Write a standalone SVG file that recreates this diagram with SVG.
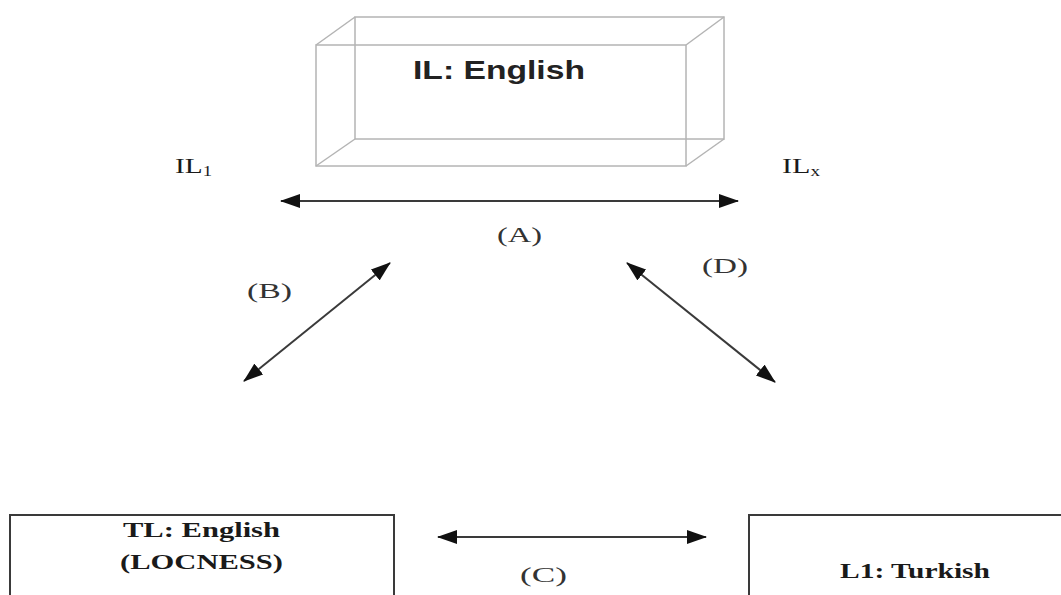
<svg xmlns="http://www.w3.org/2000/svg" width="1061" height="595" viewBox="0 0 1061 595">
<style>
.cube{fill:none;stroke:#b4b4b4;stroke-width:1.5}
.box{fill:#fff;stroke:#3a3a3a;stroke-width:2}
.conn{stroke:#3a3a3a;stroke-width:2;fill:none}
.serif{font-family:"Liberation Serif","Times New Roman",serif;fill:#1a1a1a}
.lbl{font-family:"Liberation Serif","Times New Roman",serif;font-size:20px;fill:#333}
.bold{font-weight:bold}
</style>
<defs>
<marker id="ah" viewBox="0 0 20 14" refX="19" refY="7" markerWidth="20" markerHeight="14" markerUnits="userSpaceOnUse" orient="auto-start-reverse">
<path d="M0,0 L20,7 L0,14 Z" fill="#111"/>
</marker>
</defs>
<rect width="1061" height="595" fill="#fff"/>
<g id="il-box">
<rect class="cube" x="355" y="17" width="369" height="122"/>
<rect class="cube" x="316" y="45" width="370" height="121"/>
<line class="cube" x1="316" y1="45" x2="355" y2="17"/>
<line class="cube" x1="686" y1="45" x2="724" y2="17"/>
<line class="cube" x1="316" y1="166" x2="355" y2="139"/>
<line class="cube" x1="686" y1="166" x2="724" y2="139"/>
<text x="413" y="79" textLength="172" lengthAdjust="spacingAndGlyphs" font-family="Liberation Sans, Arial, sans-serif" font-weight="bold" font-size="25" fill="#222">IL: English</text>
</g>
<g id="il1">
<text class="serif" x="175" y="173" font-size="22" textLength="37" lengthAdjust="spacingAndGlyphs">IL<tspan font-size="14" dy="3">1</tspan></text>
</g>
<g id="ilx">
<text class="serif" x="782" y="173" font-size="22" textLength="38" lengthAdjust="spacingAndGlyphs">IL<tspan font-size="14" dy="3">x</tspan></text>
</g>
<g id="tl-box">
<rect class="box" x="10" y="515" width="384" height="100"/>
<text class="serif bold" x="123" y="537" font-size="20" textLength="157" lengthAdjust="spacingAndGlyphs">TL: English</text>
<text class="serif bold" x="120" y="569" font-size="20" textLength="163" lengthAdjust="spacingAndGlyphs">(LOCNESS)</text>
</g>
<g id="l1-box">
<rect class="box" x="749" y="515" width="330" height="100"/>
<text class="serif bold" x="840" y="578" font-size="20" textLength="150" lengthAdjust="spacingAndGlyphs">L1: Turkish</text>
</g>
<g id="connectors">
<line class="conn" x1="281" y1="201" x2="738" y2="201" marker-start="url(#ah)" marker-end="url(#ah)"/>
<line class="conn" x1="244" y1="381" x2="390" y2="263" marker-start="url(#ah)" marker-end="url(#ah)"/>
<line class="conn" x1="627" y1="263" x2="775" y2="382" marker-start="url(#ah)" marker-end="url(#ah)"/>
<line class="conn" x1="438" y1="537" x2="706" y2="537" marker-start="url(#ah)" marker-end="url(#ah)"/>
</g>
<g id="labels">
<text class="lbl" x="497" y="242" textLength="45" lengthAdjust="spacingAndGlyphs">(A)</text>
<text class="lbl" x="247" y="298" textLength="45" lengthAdjust="spacingAndGlyphs">(B)</text>
<text class="lbl" x="520" y="582" textLength="47" lengthAdjust="spacingAndGlyphs">(C)</text>
<text class="lbl" x="702" y="273" textLength="46" lengthAdjust="spacingAndGlyphs">(D)</text>
</g>
</svg>
